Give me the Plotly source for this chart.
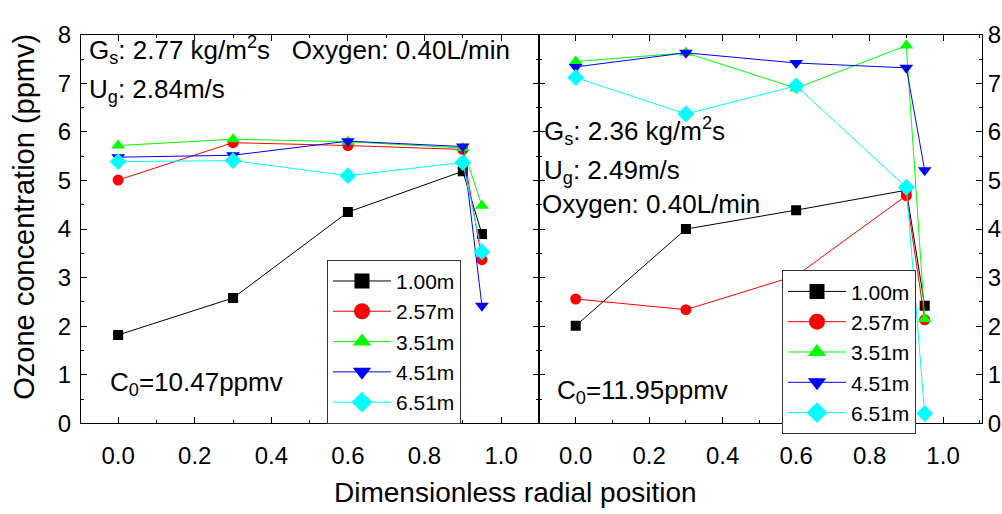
import plotly.graph_objects as go

# ---------------- data ----------------
radial_pos = [0.0, 0.3, 0.6, 0.9, 0.95]
heights = ["1.00m", "2.57m", "3.51m", "4.51m", "6.51m"]

left_series = {
    "1.00m": [1.82, 2.58, 4.35, 5.19, 3.90],
    "2.57m": [5.01, 5.78, 5.72, 5.64, 3.37],
    "3.51m": [5.72, 5.85, 5.80, 5.67, 4.48],
    "4.51m": [5.48, 5.52, 5.81, 5.70, 2.42],
    "6.51m": [5.39, 5.41, 5.10, 5.37, 3.53],
}
right_series = {
    "1.00m": [2.01, 4.00, 4.39, 4.80, 2.42],
    "2.57m": [2.56, 2.34, 3.04, 4.69, 2.13],
    "3.51m": [7.45, 7.63, 6.90, 7.78, 2.15],
    "4.51m": [7.34, 7.63, 7.42, 7.32, 5.21],
    "6.51m": [7.12, 6.37, 6.95, 4.86, 0.20],
}

# ---------------- styles ----------------
colors = ["#000000", "#FF0000", "#00FF00", "#0000FF", "#00FFFF"]
symbols = ["square", "circle", "triangle-up", "triangle-down", "diamond"]
plot_sizes = [10, 11, 12, 12, 13]
legend_sizes = [15, 16, 16, 16, 16]
FONT = "Arial, Liberation Sans, sans-serif"

W, H = 1002, 514

fig = go.Figure()

for i, h in enumerate(heights):
    for xa, ya, data in (("x", "y", left_series), ("x2", "y2", right_series)):
        fig.add_trace(go.Scatter(
            x=radial_pos, y=data[h], xaxis=xa, yaxis=ya,
            mode="lines+markers",
            line=dict(color=colors[i], width=1),
            marker=dict(symbol=symbols[i], size=plot_sizes[i], color=colors[i],
                        line=dict(width=0)),
            showlegend=False, hoverinfo="skip",
        ))
    # legend entries (larger symbols, as in the reference)
    for lg, xa, ya in (("legend", "x", "y"), ("legend2", "x2", "y2")):
        fig.add_trace(go.Scatter(
            x=[None], y=[None], xaxis=xa, yaxis=ya, name=h,
            mode="lines+markers", legend=lg,
            line=dict(color=colors[i], width=1),
            marker=dict(symbol=symbols[i], size=legend_sizes[i], color=colors[i],
                        line=dict(width=0)),
            showlegend=True,
        ))

def px_x(p):
    return p / W

def px_y(p):
    return 1 - p / H

ydom = [px_y(432), px_y(22)]

common_axis = dict(
    showline=True, linecolor="black", linewidth=1, mirror="ticks",
    ticks="inside", ticklen=6, tickwidth=1, tickcolor="black",
    showgrid=False, zeroline=False,
    tickfont=dict(family=FONT, size=24, color="black"),
)

legend_common = dict(
    xanchor="left", yanchor="middle",
    bgcolor="white", bordercolor="#333333", borderwidth=1,
    font=dict(family=FONT, size=21, color="black"),
    tracegroupgap=0, itemwidth=58,
)

fig.update_layout(
    width=W, height=H, autosize=False,
    margin=dict(l=0, r=0, t=0, b=0),
    paper_bgcolor="white", plot_bgcolor="white",
    font=dict(family=FONT, color="black"),
    xaxis=dict(domain=[px_x(81), px_x(539)], anchor="y", range=[-0.097, 1.099],
               tick0=0, dtick=0.2, tickformat=".1f",
               minor=dict(ticks="inside", ticklen=3, dtick=0.1, tick0=0, tickcolor="black"),
               ticklabelstandoff=11, **common_axis),
    yaxis=dict(domain=ydom, anchor="x", range=[0, 8], tick0=0, dtick=1,
               minor=dict(ticks="inside", ticklen=3, dtick=0.5, tick0=0, tickcolor="black"),
               ticklabelstandoff=4, **common_axis),
    xaxis2=dict(domain=[px_x(539), px_x(982)], anchor="y2", range=[-0.1, 1.106],
                tick0=0, dtick=0.2, tickformat=".1f",
                minor=dict(ticks="inside", ticklen=3, dtick=0.1, tick0=0, tickcolor="black"),
                ticklabelstandoff=11, **common_axis),
    yaxis2=dict(domain=ydom, anchor="x2", side="right", range=[0, 8], tick0=0, dtick=1,
                minor=dict(ticks="inside", ticklen=3, dtick=0.5, tick0=0, tickcolor="black"),
                ticklabelstandoff=0, **common_axis),
    legend=dict(x=px_x(327), y=px_y(346), **legend_common),
    legend2=dict(x=px_x(782), y=px_y(357), **legend_common),
)

def text_ann(text, x, y, size=26, xanchor="left", angle=0):
    fig.add_annotation(text=text, x=px_x(x), y=px_y(y), xref="paper", yref="paper",
                       xanchor=xanchor, yanchor="middle", showarrow=False,
                       textangle=angle, font=dict(family=FONT, size=size, color="black"))

# left panel texts
text_ann("G<sub>s</sub>: 2.77 kg/m<sup>2</sup>s   Oxygen: 0.40L/min", 87, 38)
text_ann("U<sub>g</sub>: 2.84m/s", 87, 81)
text_ann("C<sub>0</sub>=10.47ppmv", 108, 390)
# right panel texts
text_ann("G<sub>s</sub>: 2.36 kg/m<sup>2</sup>s", 542, 123)
text_ann("U<sub>g</sub>: 2.49m/s", 542, 166)
text_ann("Oxygen: 0.40L/min", 540, 201)
text_ann("C<sub>0</sub>=11.95ppmv", 555, 398)

# axis titles
text_ann("Dimensionless radial position", 515, 505, size=28, xanchor="center")
fig.add_annotation(text="Ozone concentration (ppmv)", x=px_x(24), y=px_y(214),
                   xref="paper", yref="paper", xanchor="center", yanchor="middle",
                   showarrow=False, textangle=-90,
                   font=dict(family=FONT, size=29, color="black"))

fig.write_html("out.html")
